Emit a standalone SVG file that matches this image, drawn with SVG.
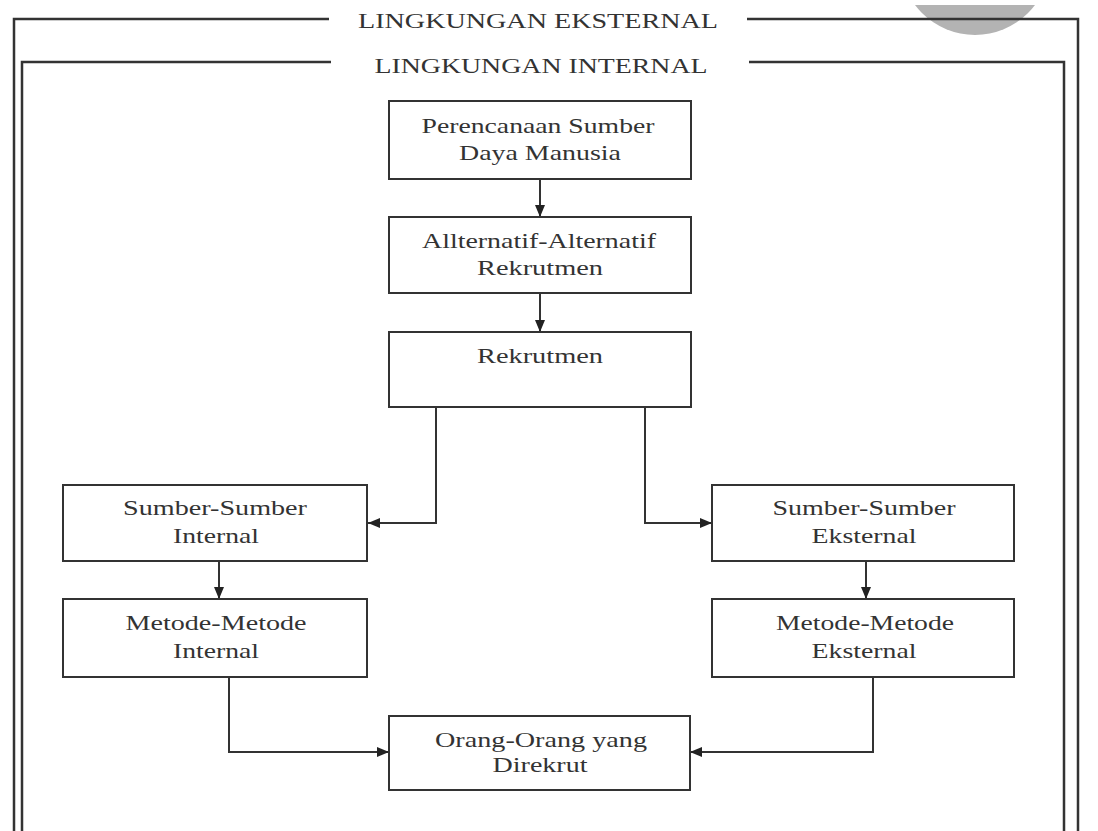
<svg xmlns="http://www.w3.org/2000/svg" width="1098" height="831" viewBox="0 0 1098 831">
<defs>
<style>
.frame{fill:none;stroke:#333;stroke-width:2.5}
.box{fill:#fff;stroke:#333;stroke-width:2}
.conn{fill:none;stroke:#333;stroke-width:2}
text{font-family:"Liberation Serif","Times New Roman",serif;font-size:22px;fill:#333;text-anchor:middle}
</style>
<marker id="arr" viewBox="0 0 12 10" refX="12" refY="5" markerWidth="12" markerHeight="10" markerUnits="userSpaceOnUse" orient="auto">
<path d="M0,0 L12,5 L0,10 Z" fill="#222"/>
</marker>
<clipPath id="clipTop"><rect x="0" y="5" width="1098" height="826"/></clipPath>
</defs>
<rect width="1098" height="831" fill="#fff"/>
<circle cx="975" cy="-40" r="75" fill="#b3b3b3" clip-path="url(#clipTop)"/>
<g id="frames">
<polyline class="frame" points="329,19 14,19 14,831"/>
<polyline class="frame" points="747,19 1078,19 1078,831"/>
<polyline class="frame" points="331,62 22,62 22,831"/>
<polyline class="frame" points="749,62 1064,62 1064,831"/>
<text x="538" y="28" textLength="360" lengthAdjust="spacingAndGlyphs">LINGKUNGAN EKSTERNAL</text>
<text x="541" y="73" textLength="333" lengthAdjust="spacingAndGlyphs">LINGKUNGAN INTERNAL</text>
</g>
<g id="connectors">
<line class="conn" x1="540" y1="179" x2="540" y2="217" marker-end="url(#arr)"/>
<line class="conn" x1="540" y1="293" x2="540" y2="332" marker-end="url(#arr)"/>
<polyline class="conn" points="436,407 436,523 368,523" marker-end="url(#arr)"/>
<polyline class="conn" points="645,407 645,523 712,523" marker-end="url(#arr)"/>
<line class="conn" x1="219" y1="561" x2="219" y2="599" marker-end="url(#arr)"/>
<line class="conn" x1="866" y1="561" x2="866" y2="599" marker-end="url(#arr)"/>
<polyline class="conn" points="229,677 229,752 389,752" marker-end="url(#arr)"/>
<polyline class="conn" points="873,677 873,752 690,752" marker-end="url(#arr)"/>
</g>
<g id="n-perencanaan">
<rect class="box" x="389" y="101" width="302" height="78"/>
<text x="538" y="133" textLength="233" lengthAdjust="spacingAndGlyphs">Perencanaan Sumber</text>
<text x="540" y="160" textLength="162" lengthAdjust="spacingAndGlyphs">Daya Manusia</text>
</g>
<g id="n-alternatif">
<rect class="box" x="389" y="217" width="302" height="76"/>
<text x="539" y="248" textLength="234" lengthAdjust="spacingAndGlyphs">Allternatif-Alternatif</text>
<text x="540" y="275" textLength="126" lengthAdjust="spacingAndGlyphs">Rekrutmen</text>
</g>
<g id="n-rekrutmen">
<rect class="box" x="389" y="332" width="302" height="75"/>
<text x="540" y="363" textLength="126" lengthAdjust="spacingAndGlyphs">Rekrutmen</text>
</g>
<g id="n-sumber-internal">
<rect class="box" x="63" y="485" width="304" height="76"/>
<text x="215" y="515" textLength="184" lengthAdjust="spacingAndGlyphs">Sumber-Sumber</text>
<text x="216" y="543" textLength="86" lengthAdjust="spacingAndGlyphs">Internal</text>
</g>
<g id="n-metode-internal">
<rect class="box" x="63" y="599" width="304" height="78"/>
<text x="216" y="630" textLength="181" lengthAdjust="spacingAndGlyphs">Metode-Metode</text>
<text x="216" y="658" textLength="86" lengthAdjust="spacingAndGlyphs">Internal</text>
</g>
<g id="n-sumber-eksternal">
<rect class="box" x="712" y="485" width="302" height="76"/>
<text x="864" y="515" textLength="183" lengthAdjust="spacingAndGlyphs">Sumber-Sumber</text>
<text x="864" y="543" textLength="105" lengthAdjust="spacingAndGlyphs">Eksternal</text>
</g>
<g id="n-metode-eksternal">
<rect class="box" x="712" y="599" width="302" height="78"/>
<text x="865" y="630" textLength="178" lengthAdjust="spacingAndGlyphs">Metode-Metode</text>
<text x="864" y="658" textLength="105" lengthAdjust="spacingAndGlyphs">Eksternal</text>
</g>
<g id="n-orang">
<rect class="box" x="389" y="716" width="301" height="74"/>
<text x="541" y="747" textLength="212" lengthAdjust="spacingAndGlyphs">Orang-Orang yang</text>
<text x="540" y="772" textLength="95" lengthAdjust="spacingAndGlyphs">Direkrut</text>
</g>
</svg>
